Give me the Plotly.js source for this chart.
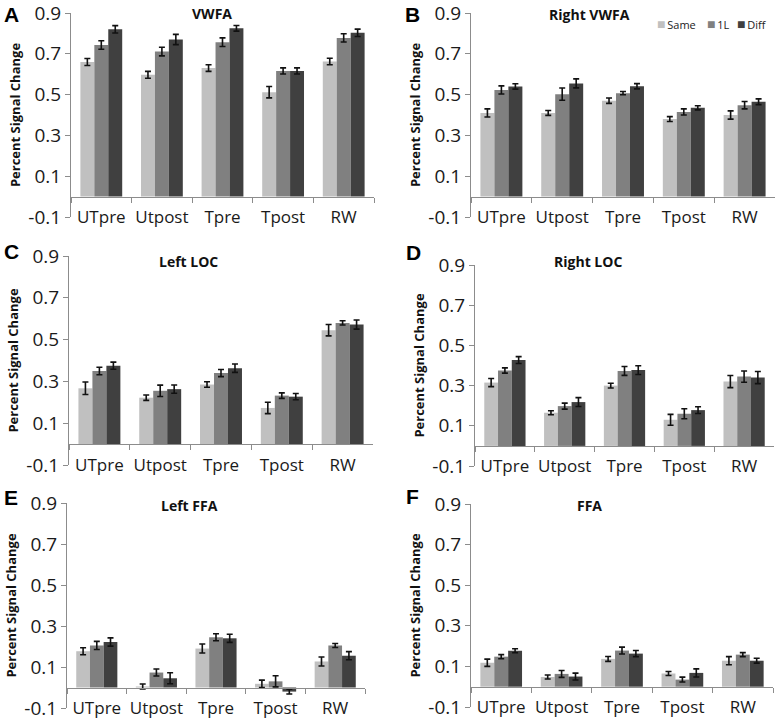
<!DOCTYPE html>
<html>
<head>
<meta charset="utf-8">
<script src="https://cdn.plot.ly/plotly-3.0.1.min.js"></script>
<style>html,body{margin:0;padding:0;background:#fff;}#chart{width:775px;height:720px;}</style>
</head>
<body>
<div id="chart"></div>
<script>
// ---- data ----
const categories = ['UTpre', 'Utpost', 'Tpre', 'Tpost', 'RW'];
const conditions = ['Same', '1L', 'Diff'];
const yTickVals = [0.9, 0.7, 0.5, 0.3, 0.1, -0.1];
const yTickText = ['0.9', '0.7', '0.5', '0.3', '0.1', '-0.1'];
const panelLetters = ['A', 'B', 'C', 'D', 'E', 'F'];
const panelTitles = ['VWFA', 'Right VWFA', 'Left LOC', 'Right LOC', 'Left FFA', 'FFA'];

// rows: Same, 1L, Diff ; columns follow categories
const vwfaMeans = [[0.660, 0.597, 0.630, 0.512, 0.662], [0.743, 0.711, 0.757, 0.616, 0.778], [0.820, 0.770, 0.825, 0.616, 0.803]];
const vwfaErrs  = [[0.017, 0.017, 0.016, 0.028, 0.016], [0.021, 0.021, 0.021, 0.015, 0.020], [0.018, 0.025, 0.014, 0.015, 0.018]];
const rVwfaMeans = [[0.410, 0.410, 0.470, 0.380, 0.400], [0.523, 0.502, 0.507, 0.415, 0.448], [0.540, 0.555, 0.541, 0.435, 0.465]];
const rVwfaErrs  = [[0.020, 0.012, 0.013, 0.012, 0.020], [0.020, 0.030, 0.008, 0.015, 0.018], [0.013, 0.022, 0.013, 0.010, 0.014]];
const lLocMeans = [[0.267, 0.222, 0.285, 0.173, 0.545], [0.350, 0.255, 0.340, 0.232, 0.580], [0.375, 0.263, 0.363, 0.227, 0.572]];
const lLocErrs  = [[0.030, 0.013, 0.013, 0.027, 0.027], [0.018, 0.027, 0.017, 0.013, 0.010], [0.017, 0.020, 0.020, 0.015, 0.022]];
const rLocMeans = [[0.315, 0.165, 0.300, 0.130, 0.320], [0.375, 0.198, 0.373, 0.160, 0.345], [0.427, 0.218, 0.377, 0.178, 0.340]];
const rLocErrs  = [[0.020, 0.010, 0.012, 0.027, 0.030], [0.013, 0.015, 0.022, 0.025, 0.028], [0.017, 0.022, 0.022, 0.017, 0.030]];
const lFfaMeans = [[0.177, 0.005, 0.190, 0.018, 0.127], [0.205, 0.073, 0.245, 0.030, 0.205], [0.222, 0.045, 0.240, -0.020, 0.155]];
const lFfaErrs  = [[0.017, 0.012, 0.022, 0.018, 0.022], [0.020, 0.017, 0.017, 0.027, 0.010], [0.020, 0.027, 0.020, 0.012, 0.020]];
const ffaMeans = [[0.118, 0.048, 0.137, 0.065, 0.128], [0.148, 0.063, 0.178, 0.035, 0.158], [0.177, 0.050, 0.163, 0.068, 0.128]];
const ffaErrs  = [[0.018, 0.010, 0.012, 0.010, 0.020], [0.010, 0.017, 0.017, 0.012, 0.010], [0.010, 0.017, 0.015, 0.020, 0.012]];

const panelMeans = [vwfaMeans, rVwfaMeans, lLocMeans, rLocMeans, lFfaMeans, ffaMeans];
const panelErrs = [vwfaErrs, rVwfaErrs, lLocErrs, rLocErrs, lFfaErrs, ffaErrs];

// ---- styling / layout ----
const W = 775, H = 720;
const barColors = ['#c0c0c0', '#808080', '#404040'];
// panel boxes in pixels: [left, right, top(0.9), bottom(-0.1)]
const boxes = [
  [71, 374, 13, 217], [471, 775, 13, 217],
  [69, 373, 256, 465], [475, 774, 265, 466],
  [67, 365, 503, 708], [471, 773, 504, 707]
];
const letterPos = [[11, 14], [412, 14], [11, 252], [413, 253], [11, 497], [412, 496]];
const titlePos = [[212, 13], [589, 14], [188, 261], [588, 261], [189, 506], [589, 506]];
const legendPos = [[655, 24], [705, 24], [735, 24]];

const tickFont = {family: 'Open Sans, sans-serif', size: 19, color: '#1a1a1a'};
const xTickFont = {family: 'Open Sans, sans-serif', size: 17, color: '#1a1a1a'};
const axisGray = '#8c8c8c';

const traces = [];
const layout = {
  width: W, height: H,
  margin: {l: 0, r: 0, t: 0, b: 0},
  paper_bgcolor: '#fff', plot_bgcolor: '#fff',
  barmode: 'group', bargap: 0.31, bargroupgap: 0,
  showlegend: false,
  annotations: [],
  font: {family: 'Open Sans, sans-serif'}
};

boxes.forEach((b, p) => {
  const i = p + 1;
  const xs = i === 1 ? '' : String(i);
  const x0 = b[0] / W, x1 = b[1] / W;
  const y0 = 1 - b[3] / H, y1 = 1 - b[2] / H;
  conditions.forEach((c, k) => {
    traces.push({
      type: 'bar', name: c, x: categories, y: panelMeans[p][k],
      xaxis: 'x' + xs, yaxis: 'y' + xs,
      marker: {color: barColors[k], line: {width: 0}},
      error_y: {type: 'data', array: panelErrs[p][k], visible: true, color: '#111', thickness: 1.6, width: 3},
      legendgroup: c, hoverinfo: 'skip'
    });
  });
  layout['xaxis' + xs] = {
    domain: [x0, x1], anchor: 'free', position: y0 + 0.1 * (y1 - y0),
    type: 'category', showline: true, linecolor: axisGray, linewidth: 1,
    ticks: 'outside', tickson: 'boundaries', ticklen: 5, tickcolor: axisGray, tickwidth: 1,
    showgrid: false, zeroline: false, tickfont: xTickFont, tickangle: 0, ticklabelstandoff: 5,
    ticklabeloverflow: 'allow', fixedrange: true
  };
  layout['yaxis' + xs] = {
    domain: [y0, y1], anchor: 'x' + xs, range: [-0.1, 0.9],
    tickmode: 'array', tickvals: yTickVals, ticktext: yTickText,
    showline: true, linecolor: axisGray, linewidth: 1,
    ticks: 'outside', ticklen: 5, tickcolor: axisGray,
    showgrid: false, zeroline: false, tickfont: tickFont, ticklabeloverflow: 'allow',
    title: {text: 'Percent Signal Change', standoff: 4,
            font: {family: 'Open Sans, sans-serif', size: 13, color: '#111', weight: 'bold'}},
    fixedrange: true
  };
  layout.annotations.push({
    text: '<b>' + panelLetters[p] + '</b>', xref: 'paper', yref: 'paper',
    x: letterPos[p][0] / W, y: 1 - letterPos[p][1] / H, xanchor: 'center', yanchor: 'middle',
    showarrow: false, font: {family: 'Liberation Sans, Arial, sans-serif', size: 21, color: '#000'}
  });
  layout.annotations.push({
    text: '<b>' + panelTitles[p] + '</b>', xref: 'paper', yref: 'paper',
    x: titlePos[p][0] / W, y: 1 - titlePos[p][1] / H, xanchor: 'center', yanchor: 'middle',
    showarrow: false, font: {family: 'Open Sans, sans-serif', size: 14, color: '#111'}
  });
});

// compact legend (as in the reference) built from the condition names and colours
conditions.forEach((c, k) => {
  layout.annotations.push({
    text: '<span style="color:' + barColors[k] + ';font-size:14px">\u25A0</span>\u2009' + c,
    xref: 'paper', yref: 'paper', x: legendPos[k][0] / W, y: 1 - legendPos[k][1] / H,
    xanchor: 'left', yanchor: 'middle', showarrow: false,
    font: {family: 'Open Sans, sans-serif', size: 11, color: '#222'}
  });
});

Plotly.newPlot('chart', traces, layout, {staticPlot: true, displayModeBar: false});
</script>
</body>
</html>
